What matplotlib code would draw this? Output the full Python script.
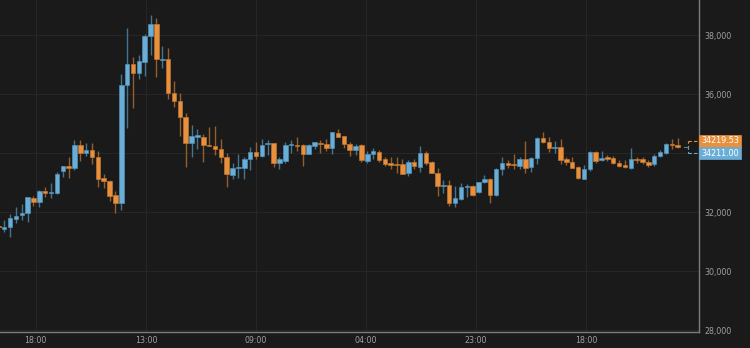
import matplotlib
matplotlib.use("Agg")
import matplotlib.pyplot as plt
from matplotlib.patches import Rectangle
import numpy as np

# ---- data (hourly candles) ----
opens = [31526, 31434, 31502, 31763, 31892, 31956, 32485, 32329, 32722, 32634,
         32634, 33400, 33560, 33492, 34282, 33990, 34102, 33855, 33143, 33061,
         32566, 32295, 36295, 37007, 36702, 37095, 37967, 38373, 37153, 37177,
         36024, 35763, 35221, 34329, 34553, 34526, 34282, 34248, 34126, 33875,
         33244, 33475, 33492, 33790, 34034, 33909, 34295, 34329, 33672, 33729,
         34261, 34271, 34261, 33966, 34248, 34339, 34305, 34160, 34688, 34577,
         34305, 34112, 34265, 33746, 33966, 34051, 33780, 33651, 33627, 33617,
         33312, 33685, 33536, 33990, 33685, 33332, 32882, 32905, 32315, 32441,
         32837, 32882, 32668, 33010, 33109, 32577, 33451, 33672, 33610, 33570,
         33787, 33516, 33821, 34499, 34366, 34180, 34214, 33787, 33685, 33536,
         33119, 33448, 34024, 33763, 33875, 33841, 33651, 33583, 33502, 33797,
         33787, 33695, 33617, 33909, 34010, 34322, 34248]
highs = [31627, 31729, 31932, 32180, 32265, 32499, 32543, 32730, 32837, 32973,
         33346, 33565, 33855, 34441, 34441, 34329, 34329, 34068, 33288, 33085,
         32712, 36678, 38238, 37265, 37306, 38028, 38679, 38567, 37628, 37550,
         36451, 36044, 35366, 34960, 34804, 34638, 34872, 34916, 34465, 34000,
         33651, 33973, 33875, 34214, 34366, 34465, 34441, 34340, 33855, 34373,
         34441, 34553, 34295, 34295, 34373, 34441, 34465, 34722, 34804, 34590,
         34373, 34305, 34300, 34078, 34160, 34102, 33875, 33855, 33855, 33787,
         33763, 33787, 34248, 34068, 33739, 33482, 33085, 33095, 32871, 32973,
         32949, 32915, 33027, 33255, 33143, 33482, 33865, 33773, 33956, 33855,
         34417, 33875, 34526, 34702, 34533, 34417, 34468, 33855, 33855, 33560,
         33577, 34068, 34068, 34068, 33933, 33899, 33763, 33763, 34180, 33875,
         33875, 33763, 33956, 34102, 34349, 34458, 34499]
lows = [31424, 31322, 31163, 31627, 31729, 31671, 32214, 32180, 32519, 32465,
        32627, 33197, 33143, 33424, 33739, 33899, 33627, 32858, 32804, 32383,
        31956, 32068, 34838, 35536, 36516, 36621, 37322, 36587, 36872, 35838,
        35570, 34577, 33516, 33848, 34126, 33705, 34221, 33933, 33672, 32837,
        33109, 33143, 33129, 33424, 33797, 33855, 33933, 33536, 33448, 33672,
        34010, 34078, 33543, 33950, 34126, 34010, 34078, 33966, 34526, 34177,
        33909, 33943, 33695, 33672, 33807, 33695, 33560, 33448, 33332, 33288,
        33221, 33448, 33366, 33594, 33312, 32526, 32634, 32204, 32180, 32407,
        32519, 32553, 32660, 32973, 32315, 32543, 33255, 33482, 33441, 33458,
        33322, 33366, 33638, 34329, 34034, 34000, 33627, 33594, 33482, 33109,
        33109, 33400, 33651, 33729, 33739, 33627, 33536, 33482, 33448, 33651,
        33627, 33536, 33570, 33855, 33966, 34146, 34160]
closes = [31475, 31502, 31797, 31875, 31983, 32492, 32329, 32722, 32654, 32654,
          33278, 33560, 33492, 34282, 34000, 34102, 33848, 33119, 33058, 32553,
          32295, 36305, 37007, 36702, 37129, 37977, 38373, 37177, 37197, 36024,
          35753, 35221, 34329, 34577, 34621, 34271, 34238, 34126, 33855, 33282,
          33482, 33529, 33807, 34034, 33899, 34271, 34339, 33672, 33787, 34261,
          34295, 34238, 33966, 34261, 34363, 34305, 34160, 34702, 34533, 34305,
          34102, 34248, 33763, 33960, 34078, 33763, 33644, 33610, 33583, 33299,
          33685, 33560, 33990, 33672, 33332, 32882, 32915, 32305, 32458, 32837,
          32882, 32577, 33017, 33109, 32566, 33451, 33651, 33594, 33583, 33787,
          33492, 33841, 34499, 34363, 34180, 34214, 33763, 33688, 33502, 33143,
          33448, 34024, 33739, 33821, 33787, 33651, 33560, 33516, 33787, 33763,
          33685, 33583, 33909, 34044, 34305, 34271, 34219.53]

last_price = 34219.53
bid_price = 34211.00

y_ticks = [28000, 30000, 32000, 34000, 36000, 38000]
y_tick_labels = ["28,000", "30,000", "32,000", "", "36,000", "38,000"]
x_tick_pos = [6.39, 25.22, 44.0, 62.78, 81.56, 100.34]
x_tick_labels = ["18:00", "13:00", "09:00", "04:00", "23:00", "18:00"]

# ---- style ----
BG = "#1a1a1a"
GRID = "#262626"
UP = "#6aaed8"
DOWN = "#e8903c"
UP_WICK = "#44748f"
DOWN_WICK = "#935f2e"
UP_EDGE = "#4f8fb6"
DOWN_EDGE = "#c07530"
TXT = "#a0a0a0"

fig = plt.figure(figsize=(7.5, 3.48), dpi=100, facecolor=BG)
ax = fig.add_axes([0.0, 0.0474, 0.9324, 0.9526])
ax.set_facecolor(BG)

o = np.array(opens, dtype=float)
h = np.array(highs, dtype=float)
l = np.array(lows, dtype=float)
c = np.array(closes, dtype=float)
x = np.arange(len(o))
up = c >= o

wick_cols = np.where(up, UP_WICK, DOWN_WICK)
ax.vlines(x, l, h, colors=wick_cols, linewidth=1.0, zorder=2)

bottoms = np.minimum(o, c)
heights = np.maximum(np.abs(c - o), 40)
ax.bar(x, heights, bottom=bottoms, width=0.76,
       color=np.where(up, UP, DOWN), edgecolor=np.where(up, UP_EDGE, DOWN_EDGE),
       linewidth=0.5, zorder=3)

ax.set_xlim(0.29, 119.69)
ax.set_ylim(27949, 39187)

ax.set_yticks(y_ticks)
ax.set_yticklabels(y_tick_labels)
ax.yaxis.tick_right()
ax.set_xticks(x_tick_pos)
ax.set_xticklabels(x_tick_labels)
ax.tick_params(axis="both", length=0, labelsize=5.7, colors=TXT)
ax.tick_params(axis="y", pad=3.5)
ax.tick_params(axis="x", pad=3.2)
ax.grid(True, color=GRID, linewidth=0.8, zorder=0)

for s in ["top", "left"]:
    ax.spines[s].set_visible(False)
for s in ["right", "bottom"]:
    ax.spines[s].set_color("#7c7c7c")
    ax.spines[s].set_linewidth(1.0)

# dashed bracket for the last price / bid markers
xb0, xb1 = 117.76, 119.69
y_top = 34414
y_bot = 33985
ax.plot([xb0, xb1], [y_top, y_top], color=DOWN, lw=0.8, ls=(0, (3, 2)), zorder=4, clip_on=False)
ax.plot([xb0, xb1], [y_bot, y_bot], color=UP, lw=0.8, ls=(0, (3, 2)), zorder=4, clip_on=False)
ax.plot([xb0, xb0], [y_top, last_price], color=DOWN, lw=0.8, ls=(0, (2, 2)), zorder=4)
ax.plot([xb0, xb0], [bid_price, y_bot], color=UP, lw=0.8, ls=(0, (2, 2)), zorder=4)
ax.plot([117.15, xb0], [last_price, last_price], color="#5a7a8e", lw=0.8, zorder=4)

# price boxes
W, H = 750.0, 348.0
def box(y_top_px, y_bot_px, color, label):
    r = Rectangle((699.3 / W, 1 - y_bot_px / H), 41.4 / W, (y_bot_px - y_top_px) / H,
                  transform=fig.transFigure, facecolor=color, edgecolor=color,
                  linewidth=0.5, zorder=10)
    fig.add_artist(r)
    fig.text((699.3 + 20.7) / W, 1 - (y_top_px + y_bot_px) / 2 / H, label,
             color="white", fontsize=5.8, ha="center", va="center", zorder=11)

box(135.0, 146.7, DOWN, f"{last_price:.2f}")
box(147.3, 159.3, UP, f"{bid_price:.2f}")

fig.savefig("out.png", dpi=100, facecolor=BG)
